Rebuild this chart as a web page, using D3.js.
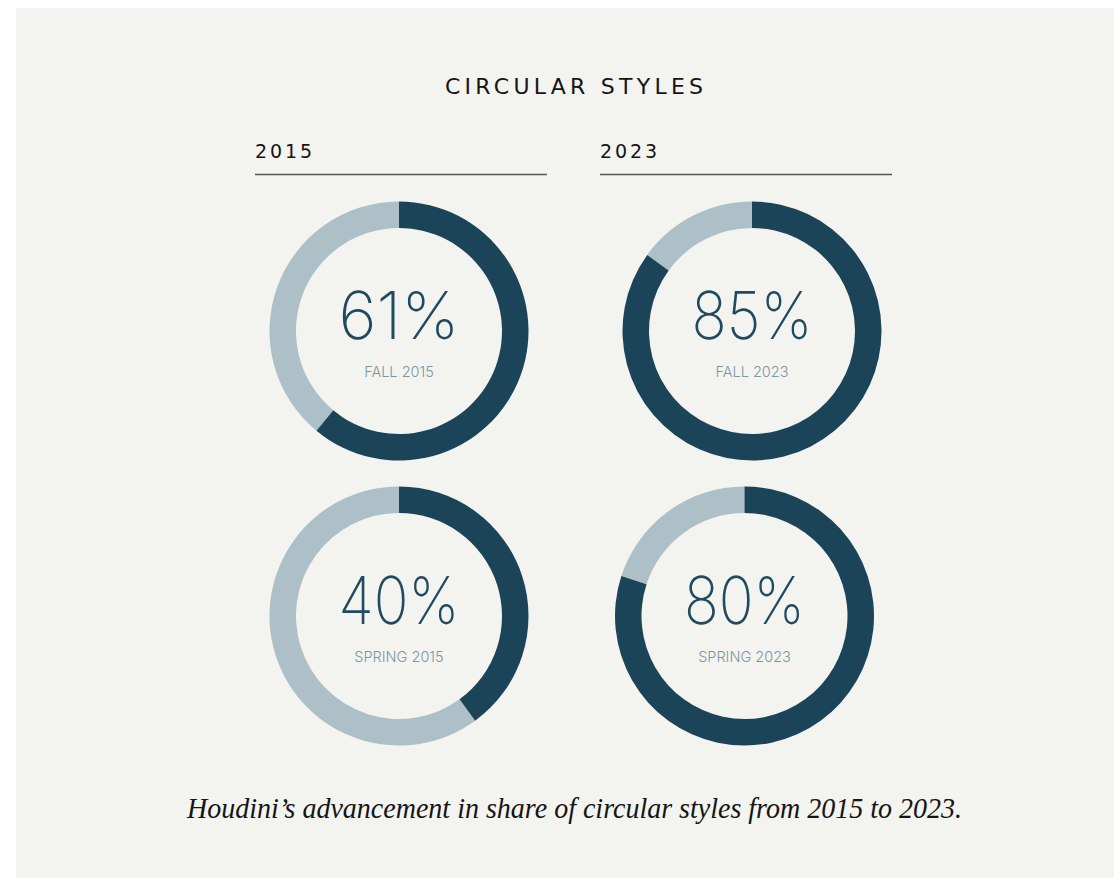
<!DOCTYPE html>
<html>
<head>
<meta charset="utf-8">
<script src="https://cdn.jsdelivr.net/npm/d3@7"></script>
<style>
  html, body { margin: 0; padding: 0; background: #ffffff; }
  svg { display: block; }
</style>
</head>
<body>
<svg id="chart" width="1114" height="878"></svg>
<script>
// Share of circular styles per season
const seasons = ["FALL 2015", "FALL 2023", "SPRING 2015", "SPRING 2023"];
const shares = [61, 85, 40, 80];
const years = ["2015", "2023"];
const title = "CIRCULAR STYLES";
const caption = "Houdini\u2019s advancement in share of circular styles from 2015 to 2023.";

const W = 1114, H = 878;
const dark = "#1b4459", light = "#adc0c7", bg = "#f3f3ef";

const svg = d3.select("#chart");

// panel
svg.append("rect").attr("x", 16).attr("y", 8).attr("width", W - 16).attr("height", H - 8).attr("fill", bg);

// title
svg.append("text")
  .attr("x", 574).attr("y", 94)
  .attr("text-anchor", "middle")
  .attr("font-family", "DejaVu Sans")
  .attr("font-size", 22)
  .attr("fill", "#151515")
  .attr("textLength", 258)
  .attr("lengthAdjust", "spacing")
  .text(title);

// column headers with rules
const headerX = [255, 600];
const header = svg.selectAll("g.header").data(years).join("g").attr("class", "header")
  .attr("transform", (d, i) => `translate(${headerX[i]},0)`);
header.append("text")
  .attr("x", 0).attr("y", 158)
  .attr("font-family", "DejaVu Sans")
  .attr("font-size", 19)
  .attr("fill", "#151515")
  .attr("textLength", 57)
  .attr("lengthAdjust", "spacing")
  .text(d => d);
header.append("line")
  .attr("x1", 0).attr("x2", 292).attr("y1", 174.5).attr("y2", 174.5)
  .attr("stroke", "#555").attr("stroke-width", 1.3);

// donut centres (row-major: fall row, spring row)
const centers = [[399, 331], [752, 331], [399, 616], [744.5, 616]];

const angle = d3.scaleLinear().domain([0, 100]).range([0, 2 * Math.PI]);
const arc = d3.arc().innerRadius(103).outerRadius(129.5);

const donut = svg.selectAll("g.donut").data(shares).join("g").attr("class", "donut")
  .attr("transform", (d, i) => `translate(${centers[i][0]},${centers[i][1]})`);

donut.append("path")
  .attr("d", d => arc({ startAngle: angle(d), endAngle: angle(100) }))
  .attr("fill", light);
donut.append("path")
  .attr("d", d => arc({ startAngle: angle(0), endAngle: angle(d) }))
  .attr("fill", dark);

donut.append("text")
  .attr("x", 0).attr("y", 8)
  .attr("text-anchor", "middle")
  .attr("font-family", "Inter, Lato, sans-serif")
  .attr("font-weight", 200)
  .attr("font-size", 66)
  .attr("fill", "#1f4a5f")
  .attr("textLength", 121)
  .attr("lengthAdjust", "spacingAndGlyphs")
  .text(d => d + "%");

donut.append("text")
  .attr("x", 0).attr("y", 46)
  .attr("text-anchor", "middle")
  .attr("font-family", "Inter, Lato, sans-serif")
  .attr("font-weight", 300)
  .attr("font-size", 14.5)
  .attr("fill", "#7b96a3")
  .text((d, i) => seasons[i]);

// caption
svg.append("text")
  .attr("x", 574.5).attr("y", 818)
  .attr("text-anchor", "middle")
  .attr("font-family", "Liberation Serif")
  .attr("font-style", "italic")
  .attr("font-size", 29)
  .attr("fill", "#151515")
  .attr("textLength", 775)
  .attr("lengthAdjust", "spacingAndGlyphs")
  .text(caption);
</script>
</body>
</html>
